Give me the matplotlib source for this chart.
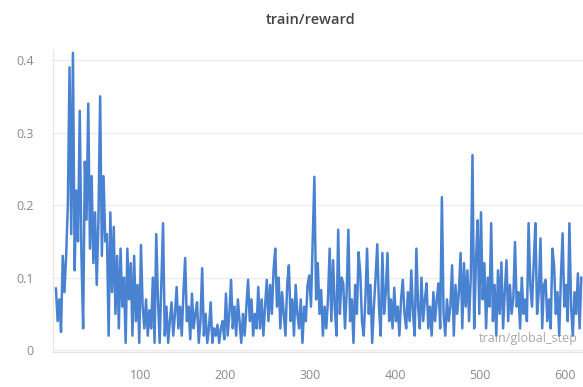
import matplotlib
matplotlib.use("Agg")
import matplotlib.pyplot as plt

# training steps (logged every 2 steps)
steps = list(range(1, 620, 2))

# train/reward per logged step
reward = [
    0.085, 0.04, 0.07, 0.025, 0.13, 0.08, 0.13, 0.2, 0.39, 0.16,
    0.41, 0.11, 0.22, 0.15, 0.33, 0.13, 0.03, 0.26, 0.18, 0.34,
    0.14, 0.24, 0.12, 0.19, 0.09, 0.18, 0.35, 0.13, 0.24, 0.15,
    0.16, 0.02, 0.19, 0.08, 0.17, 0.05, 0.13, 0.03, 0.14, 0.06,
    0.10, 0.01, 0.14, 0.07, 0.12, 0.02, 0.13, 0.04, 0.09, 0.01,
    0.145, 0.06, 0.03, 0.07, 0.02, 0.055, 0.03, 0.10, 0.01, 0.16,
    0.07, 0.01, 0.09, 0.175, 0.02, 0.06, 0.01, 0.04, 0.066, 0.02,
    0.05, 0.087, 0.03, 0.06, 0.02, 0.08, 0.127, 0.04, 0.06, 0.015,
    0.078, 0.03, 0.05, 0.066, 0.01, 0.04, 0.113, 0.02, 0.05, 0.01,
    0.03, 0.066, 0.01, 0.03, 0.02, 0.035, 0.01, 0.03, 0.04, 0.015,
    0.078, 0.02, 0.05, 0.097, 0.03, 0.06, 0.02, 0.07, 0.04, 0.01,
    0.05, 0.02, 0.06, 0.097, 0.04, 0.07, 0.02, 0.05, 0.03, 0.087,
    0.03, 0.07, 0.02, 0.06, 0.097, 0.04, 0.09, 0.05, 0.11, 0.14,
    0.06, 0.1, 0.03, 0.08, 0.05, 0.02, 0.09, 0.117, 0.04, 0.07,
    0.02, 0.09, 0.05, 0.03, 0.07, 0.01, 0.06, 0.04, 0.09, 0.103,
    0.06, 0.152, 0.239, 0.07, 0.12, 0.05, 0.083, 0.02, 0.06, 0.03,
    0.07, 0.14, 0.04, 0.124, 0.06, 0.02, 0.166, 0.05, 0.1, 0.092,
    0.03, 0.08, 0.166, 0.04, 0.07, 0.01, 0.09, 0.05, 0.135, 0.106,
    0.04, 0.02, 0.07, 0.14, 0.05, 0.09, 0.01, 0.06, 0.1, 0.146,
    0.06, 0.02, 0.134, 0.05, 0.08, 0.134, 0.04, 0.07, 0.03, 0.086,
    0.04, 0.06, 0.02, 0.07, 0.097, 0.05, 0.03, 0.08, 0.04, 0.11,
    0.05, 0.02, 0.14, 0.06, 0.03, 0.1, 0.04, 0.07, 0.092, 0.03,
    0.06, 0.02, 0.08, 0.04, 0.07, 0.092, 0.03, 0.211, 0.05, 0.02,
    0.07, 0.04, 0.06, 0.117, 0.02, 0.09, 0.05, 0.08, 0.134, 0.03,
    0.12, 0.06, 0.11, 0.04, 0.1, 0.269, 0.03, 0.12, 0.179, 0.05,
    0.19, 0.07, 0.12, 0.03, 0.1, 0.06, 0.175, 0.04, 0.09, 0.02,
    0.11, 0.05, 0.121, 0.03, 0.08, 0.124, 0.04, 0.09, 0.05, 0.07,
    0.149, 0.06, 0.08, 0.03, 0.1, 0.05, 0.07, 0.04, 0.175, 0.09,
    0.06, 0.12, 0.175, 0.05, 0.08, 0.154, 0.03, 0.09, 0.097, 0.04,
    0.07, 0.03, 0.14, 0.117, 0.05, 0.08, 0.02, 0.1, 0.161, 0.06,
    0.09, 0.04, 0.175, 0.06, 0.02, 0.08, 0.05, 0.106, 0.03, 0.1,
]

x_ticks = [100, 200, 300, 400, 500, 600]
y_ticks = [0, 0.1, 0.2, 0.3, 0.4]
y_tick_labels = ["0", "0.1", "0.2", "0.3", "0.4"]

plt.rcParams["font.family"] = ["Open Sans", "DejaVu Sans"]

fig = plt.figure(figsize=(5.83, 3.87), dpi=100)
ax = fig.add_axes([0.091, 0.090, 0.909, 0.781])

ax.plot(steps, reward, color="#4a82d2", linewidth=1.8, zorder=3)

ax.set_xlim(-2.4, 621)
ax.set_ylim(-0.0028, 0.414)

ax.set_xticks(x_ticks)
ax.set_xticklabels([str(t) for t in x_ticks])
ax.set_yticks(y_ticks)
ax.set_yticklabels(y_tick_labels)
ax.tick_params(axis="both", length=0, labelsize=9, labelcolor="#8a8a8a")
ax.tick_params(axis="x", pad=12)
ax.tick_params(axis="y", pad=14)

ax.grid(axis="y", color="#ececec", linewidth=1.0, zorder=0)
ax.set_axisbelow(True)
for side in ("top", "right"):
    ax.spines[side].set_visible(False)
for side in ("left", "bottom"):
    ax.spines[side].set_color("#ebe6dc")
    ax.spines[side].set_linewidth(1.0)

ax.text(0.99, 0.045, "train/global_step", transform=ax.transAxes,
        ha="right", va="center", fontsize=9, color="#a8a8a8", zorder=2)

fig.text(0.532, 0.948, "train/reward", ha="center", va="center",
         fontsize=10.5, fontweight="semibold", color="#444444")

fig.savefig("out.png", dpi=100)
